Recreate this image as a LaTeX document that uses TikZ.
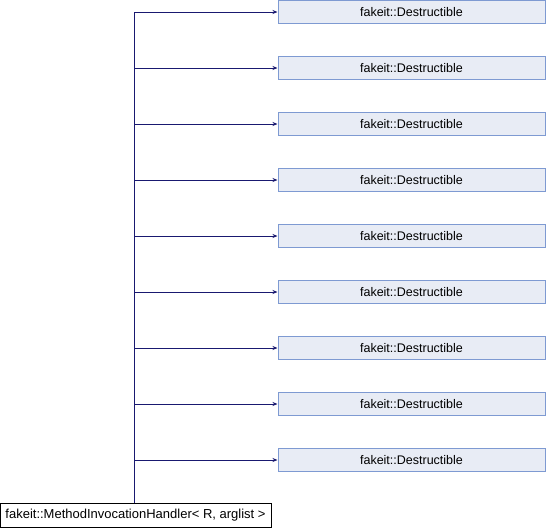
\documentclass[tikz,border=0pt]{standalone}
\usepackage{fontspec}
\setmainfont{Liberation Sans}
\usetikzlibrary{arrows.meta}
\definecolor{edgeblue}{HTML}{191970}
\definecolor{boxfill}{HTML}{E8ECF5}
\definecolor{boxdraw}{HTML}{7E9AD2}
\begin{document}
\begin{tikzpicture}[x=1pt,y=-1pt,
  base/.style={draw=boxdraw,fill=boxfill,line width=1pt,minimum width=267pt,minimum height=22.5pt,inner sep=0pt,font=\fontsize{12.5}{14}\selectfont},
  derived/.style={draw=black,fill=white,line width=1pt,minimum width=271pt,minimum height=23.5pt,inner sep=0pt,font=\fontsize{13}{15}\selectfont},
  inh/.style={draw=edgeblue,line width=1pt,-{Stealth[length=5pt,width=4pt]}}]
\useasboundingbox (0,0) rectangle (546,528);
\node[derived] (d) at (135.5,515.5) {fakeit::MethodInvocationHandler< R, arglist >};
\coordinate (trunk) at (134,503.5);
\foreach \i in {0,...,8}{
  \node[base] (b\i) at (411.5,{12+56*\i}) {fakeit::Destructible};
}
\draw[edgeblue,line width=1pt] (d.north -| trunk) -- (trunk |- b0.west);
\foreach \i in {0,...,8}{
  \draw[inh] (trunk |- b\i.west) -- (b\i.west);
}
\end{tikzpicture}
\end{document}
